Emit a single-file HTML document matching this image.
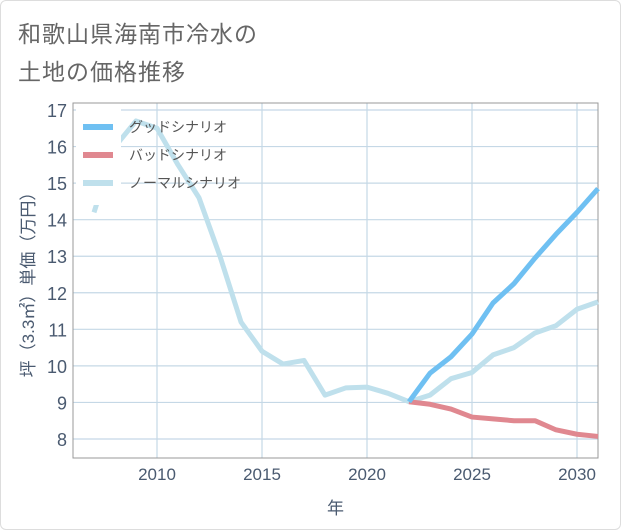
<!DOCTYPE html>
<html><head><meta charset="utf-8"><style>
body{margin:0;background:#fff;}
#wrap{position:relative;width:621px;height:530px;box-sizing:border-box;border:1px solid #ddd;border-radius:6px;overflow:hidden;font-family:"Liberation Sans","Noto Sans CJK JP",sans-serif;}
.title{position:absolute;left:17px;font-size:23px;color:#666;letter-spacing:1px;}
</style></head><body>
<div id="wrap">
<div class="title" style="top:14px">和歌山県海南市冷水の</div>
<div class="title" style="top:52px">土地の価格推移</div>
<svg id="chart" width="621" height="530" style="position:absolute;left:0;top:0"></svg>
</div>
<script>
const years=[2007,2008,2009,2010,2011,2012,2013,2014,2015,2016,2017,2018,2019,2020,2021,2022,2023,2024,2025,2026,2027,2028,2029,2030,2031];
const normal=[14.2,16.0,16.7,16.5,15.5,14.6,13.0,11.2,10.4,10.05,10.15,9.2,9.4,9.42,9.25,9.02,9.2,9.65,9.82,10.3,10.5,10.9,11.1,11.55,11.75];
const goodYears=[2022,2023,2024,2025,2026,2027,2028,2029,2030,2031];
const good=[9.02,9.8,10.25,10.87,11.72,12.25,12.95,13.6,14.2,14.85];
const bad=[9.02,8.95,8.82,8.6,8.55,8.5,8.5,8.25,8.13,8.07];
const yTicks=[8,9,10,11,12,13,14,15,16,17];
const xTicks=[2010,2015,2020,2025,2030];
const legendLabels=["グッドシナリオ","バッドシナリオ","ノーマルシナリオ"];
const NS="http://www.w3.org/2000/svg";
const svg=document.getElementById('chart');
const L=72,R=597,T=102,B=457;
const x=v=>L+(v-2006)/(2031-2006)*(R-L);
const y=v=>438-(v-8)*(329/9);
function mk(tag,attrs,parent){const e=document.createElementNS(NS,tag);for(const k in attrs)e.setAttribute(k,attrs[k]);(parent||svg).appendChild(e);return e;}
const grid=mk('g',{});


yTicks.forEach(t=>{
 const l=mk('line',{x1:L,x2:R,y1:y(t),y2:y(t),stroke:'#c5d8e6','stroke-width':1.2},grid);
 
 
 const tx=mk('text',{x:L-6,y:y(t)+7,'text-anchor':'end','font-size':18,fill:'#4a5a70'});
 tx.textContent=t;
 
 
});
xTicks.forEach(t=>{
 const l=mk('line',{x1:x(t),x2:x(t),y1:T,y2:B,stroke:'#c5d8e6','stroke-width':1.2},grid);
 
 
 const tx=mk('text',{x:x(t),y:B+22,'text-anchor':'middle','font-size':17,fill:'#4a5a70'});
 tx.textContent=t;
 
 
});
const frame=mk('rect',{x:L,y:T,width:R-L,height:B-T,fill:'none',stroke:'#999','stroke-width':1});


function line(xs,vs,color,name){
 const p=mk('polyline',{points:xs.map((yr,i)=>x(yr)+','+y(vs[i])).join(' '),fill:'none',stroke:color,'stroke-width':5,'stroke-linejoin':'round'});
 
 
}
line(years,normal,'#bfe0ec','normal-scenario-line');
line(goodYears,bad,'#e08890','bad-scenario-line');
line(goodYears,good,'#6fc0f2','good-scenario-line');
const lg=mk('g',{});


mk('rect',{x:75,y:108,width:45,height:96,fill:'#fff'},lg);
const lc=['#6fc0f2','#e08890','#bfe0ec'];
legendLabels.forEach((s,i)=>{
 const yy=126+i*28;
 const sw=mk('line',{x1:82,x2:112,y1:yy,y2:yy,stroke:lc[i],'stroke-width':6},lg);
 
 
 const t=mk('text',{x:128,y:yy+5,'font-size':14,fill:'#555'},lg);
 t.textContent=s;
 
 
});
const yt=mk('text',{x:0,y:0,'font-size':17,fill:'#4a5a70','text-anchor':'middle',transform:'translate(33,'+((T+B)/2)+') rotate(-90)'});
yt.textContent='坪（3.3㎡）単価（万円）';


const xt=mk('text',{x:(L+R)/2,y:513,'font-size':17,fill:'#4a5a70','text-anchor':'middle'});
xt.textContent='年';


</script>
</body></html>
